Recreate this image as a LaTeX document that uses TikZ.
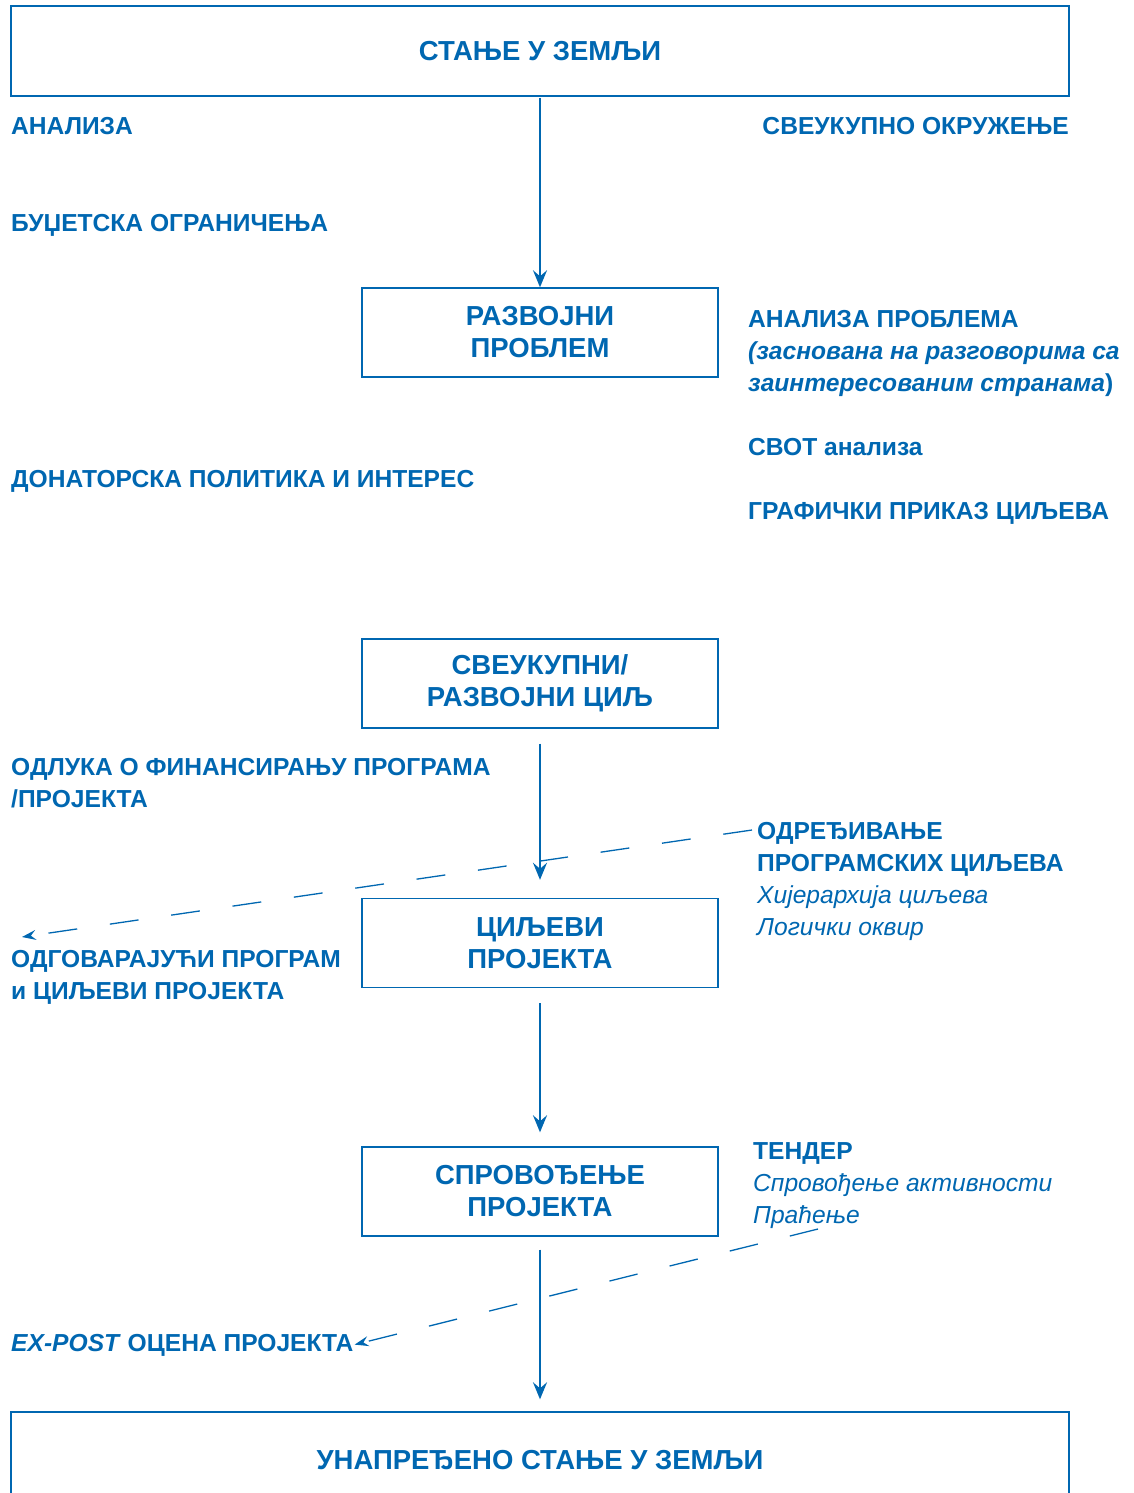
\documentclass[tikz,border=0pt]{standalone}
\usepackage{fontspec}
\setmainfont{Liberation Sans}
\usepackage{xcolor}
\usetikzlibrary{arrows.meta}
\definecolor{planblue}{RGB}{0,103,177}
\tikzset{every edge/.style={draw},
  stage/.style={draw=planblue, line width=1.4pt, minimum width=356pt, minimum height=89pt,
    align=center, inner sep=0pt, text=planblue, font=\bfseries\fontsize{27.5}{32}\selectfont},
  widestage/.style={stage, minimum width=1058pt, minimum height=90pt},
  note/.style={anchor=base west, align=left, inner sep=0pt, text=planblue,
    font=\bfseries\fontsize{24.6}{32}\selectfont},
  flow/.style={draw=planblue, line width=2.2pt, -{Stealth[length=17pt,width=14pt,inset=6pt]}},
  track/.style={draw=planblue, line width=1.3pt, dash pattern=on 29pt off 33pt,
    -{Stealth[length=14pt,width=10pt,inset=5pt]}}}

\begin{document}
\begin{tikzpicture}[x=1pt, y=-1pt]
    \useasboundingbox (0,0) rectangle (1134,1493);

    % main chain
    \node[widestage] at (540, 51) (country) {СТАЊЕ У ЗЕМЉИ};
    \node[stage] at (540, 332.5) (problem) {РАЗВОЈНИ\\ПРОБЛЕМ};
    \node[stage] at (540, 683.5) (overall) {СВЕУКУПНИ/\\РАЗВОЈНИ ЦИЉ};
    \node[stage] at (540, 943) (goals) {ЦИЉЕВИ\\ПРОЈЕКТА};
    \node[stage] at (540, 1191.5) (impl) {СПРОВОЂЕЊЕ\\ПРОЈЕКТА};
    \node[widestage, minimum height=96pt] at (540, 1460) (improved) {УНАПРЕЂЕНО СТАЊЕ У ЗЕМЉИ};

    \draw (country) edge[flow, shorten <=1pt, shorten >=0pt] (problem);
    \draw (overall) edge[flow, shorten <=15pt, shorten >=18pt] (goals);
    \draw (goals) edge[flow, shorten <=15pt, shorten >=14pt] (impl);
    \draw (impl) edge[flow, shorten <=13pt, shorten >=12pt] (improved);

    % labels left (base = last line)
    \node[note] at (11, 135) (analysis) {АНАЛИЗА};
    \node[note] at (11, 231) (budget) {БУЏЕТСКА ОГРАНИЧЕЊА};
    \node[note] at (11, 487) (donor) {ДОНАТОРСКА ПОЛИТИКА И ИНТЕРЕС};
    \node[note] at (11, 807) (decision) {ОДЛУКА О ФИНАНСИРАЊУ ПРОГРАМА\\/ПРОЈЕКТА};
    \node[note] at (11, 999) (matching) {ОДГОВАРАЈУЋИ ПРОГРАМ\\и ЦИЉЕВИ ПРОЈЕКТА};
    \node[note] at (11, 1351) (expost) {\textit{EX-POST} ОЦЕНА ПРОЈЕКТА};

    % labels right
    \node[note, anchor=base east] at (1069, 135) (environment) {СВЕУКУПНО ОКРУЖЕЊЕ};
    \node[note] at (748, 391) (probanalysis) {АНАЛИЗА ПРОБЛЕМА\\\textit{(засновaна на разговорима са}\\\textit{заинтересованим странама})};
    \node[note] at (748, 455) (swot) {СВОТ анализа};
    \node[note] at (748, 519) (graphic) {ГРАФИЧКИ ПРИКАЗ ЦИЉЕВА};
    \node[note] at (757, 935) (select) {ОДРЕЂИВАЊЕ\\ПРОГРАМСКИХ ЦИЉЕВА\\{\mdseries\itshape Хијерархија циљева}\\{\mdseries\itshape Логички оквир}};
    \node[note] at (753, 1223) (tender) {ТЕНДЕР\\{\mdseries\itshape Спровођење активности}\\{\mdseries\itshape Праћење}};

    % dashed feedback
    \coordinate (selstart) at (752, 830);
    \coordinate (leftend) at (22, 937);
    \coordinate (tendstart) at (818, 1229);
    \draw (selstart) edge[track] (leftend);
    \draw (tendstart) edge[track, shorten >=1pt] (expost.east);
\end{tikzpicture}
\end{document}
